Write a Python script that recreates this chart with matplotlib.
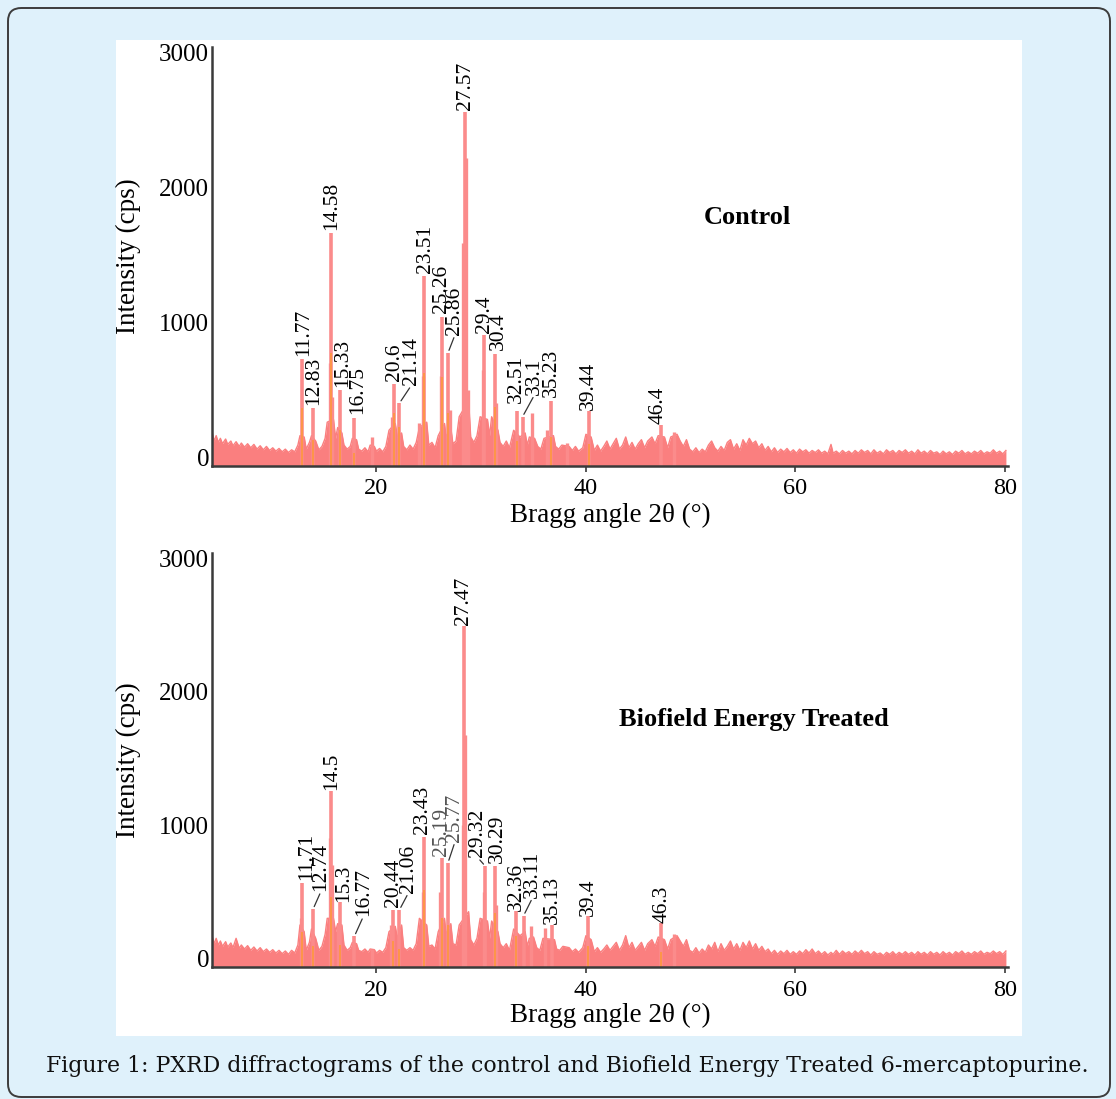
import numpy as np
import matplotlib.pyplot as plt
from matplotlib.patches import FancyBboxPatch, Rectangle

plt.rcParams['font.family'] = ['Liberation Serif', 'DejaVu Serif']

# ---- data (visual 2theta position, intensity cps) ----
# labelled peaks, control
ctrl_peak_x = [12.9, 13.95, 15.67, 16.5, 17.9, 21.64, 22.2, 24.5, 26.3, 26.83,
               28.42, 30.3, 31.28, 33.4, 33.95, 36.7, 40.25, 47.2]
ctrl_peak_h = [728, 364, 1658, 498, 290, 543, 401, 1346, 1041, 773,
               2557, 907, 766, 342, 300, 419, 344, 236]
ctrl_lbl = ["11.77", "12.83", "14.58", "15.33", "16.75", "20.6", "21.14", "23.51", "25.26", "25.86",
            "27.57", "29.4", "30.4", "32.51", "33.1", "35.23", "39.44", "46.4"]
ctrl_orange_h = [364, 126, 773, 200, 30, 327, 223, 624, 595, 327,
                 0, 0, 374, 120, 0, 150, 100, 0]
# shoulders / unlabelled spikes, control
ctrl_minor_x = [15.55, 15.8, 19.6, 21.45, 24.1, 24.4, 26.15, 27.0, 28.3, 28.52, 28.7,
                30.15, 31.4, 34.9, 36.3, 38.2, 48.4]
ctrl_minor_h = [700, 450, 149, 300, 250, 600, 600, 350, 1590, 2220, 500,
                650, 400, 330, 200, 104, 188]

# labelled peaks, treated
treat_peak_x = [12.9, 13.95, 15.67, 16.5, 17.9, 21.55, 22.2, 24.5, 26.26, 26.83,
                28.36, 30.4, 31.35, 33.35, 34.05, 36.76, 40.2, 47.2]
treat_peak_h = [567, 369, 1256, 419, 166, 359, 364, 909, 756, 716,
                2496, 691, 691, 352, 320, 253, 315, 265]
treat_lbl = ["11.71", "12.74", "14.5", "15.3", "16.77", "20.44", "21.06", "23.43", "25.19", "25.77",
             "27.47", "29.32", "30.29", "32.36", "33.11", "35.13", "39.4", "46.3"]
treat_orange_h = [200, 90, 463, 100, 0, 128, 67, 513, 300, 250,
                  0, 0, 342, 166, 0, 0, 91, 44]
treat_minor_x = [12.8, 15.55, 15.78, 16.35, 19.6, 21.4, 24.4, 26.1, 28.25, 28.47,
                 30.25, 31.45, 34.78, 36.1, 48.4]
treat_minor_h = [300, 900, 700, 250, 70, 250, 500, 500, 1000, 1678,
                 500, 400, 240, 228, 186]

# noisy baseline, upper edge (2theta, cps)
ctrl_bg = [(4.3,190),(4.5,120),(4.7,160),(4.9,110),(5.1,140),(5.3,100),(5.6,135),(5.8,95),(6.1,120),(6.3,85),
    (6.6,115),(6.9,80),(7.1,105),(7.4,75),(7.7,100),(8.0,70),(8.3,95),(8.6,60),(8.9,85),(9.2,55),(9.5,80),
    (9.8,50),(10.1,70),(10.4,45),(10.7,65),(11.0,40),(11.3,60),(11.6,35),(11.9,55),(12.2,40),(12.5,90),
    (12.7,160),(13.1,150),(13.3,60),(13.6,110),(13.8,160),(14.2,120),(14.5,55),(14.8,80),(15.1,140),
    (15.3,260),(15.9,280),(16.1,140),(16.3,220),(16.7,180),(16.9,90),(17.2,60),(17.5,80),(17.7,140),
    (18.1,130),(18.3,60),(18.6,45),(18.9,70),(19.2,40),(19.4,90),(19.8,80),(20.0,45),(20.3,65),(20.6,40),
    (20.9,80),(21.2,200),(21.8,250),(22.0,150),(22.4,180),(22.6,80),(22.9,55),(23.2,90),(23.5,60),
    (23.8,110),(24.1,220),(24.8,260),(25.0,90),(25.3,110),(25.6,70),(25.9,160),(26.5,250),(26.65,150),
    (27.1,220),(27.3,100),(27.6,120),(27.9,300),(28.8,420),(29.0,150),(29.3,110),(29.6,160),(29.9,300),
    (30.6,280),(30.8,160),(31.0,300),(31.6,200),(31.8,110),(32.1,80),(32.4,120),(32.7,70),(33.1,200),
    (33.7,150),(34.2,180),(34.4,90),(34.6,150),(35.1,140),(35.4,80),(35.7,60),(36.0,140),(36.9,160),
    (37.1,80),(37.4,60),(37.7,90),(38.4,80),(38.7,50),(39.0,80),(39.3,45),(39.7,70),(40.0,170),(40.5,150),
    (40.8,50),(41.1,90),(41.4,45),(41.7,80),(42.0,120),(42.3,60),(42.6,100),(42.9,140),(43.2,60),(43.5,90),
    (43.8,150),(44.1,70),(44.4,110),(44.7,60),(45.0,100),(45.3,130),(45.6,70),(45.9,120),(46.3,150),
    (46.6,100),(46.9,160),(47.5,150),(47.8,70),(48.1,150),(48.7,170),(49.0,120),(49.3,80),(49.6,130),
    (49.9,60),(50.2,40),(50.5,70),(50.8,35),(51.1,60),(51.4,40),(51.7,90),(52.0,120),(52.3,70),(52.6,45),
    (52.9,80),(53.2,50),(53.5,110),(53.8,130),(54.1,60),(54.4,100),(54.7,50),(55.0,130),(55.3,90),
    (55.6,140),(55.9,100),(56.2,120),(56.5,70),(56.8,100),(57.1,50),(57.4,80),(57.7,40),(58.0,70),
    (58.3,35),(58.6,60),(58.9,40),(59.2,65),(59.5,35),(59.8,55),(60.1,30),(60.4,60),(60.7,40),(61.0,55),
    (61.3,30),(61.6,50),(61.9,35),(62.2,55),(62.5,30),(62.8,45),(63.1,25),(63.4,95),(63.6,30),(63.9,45),
    (64.2,25),(64.5,50),(64.8,30),(65.1,45),(65.4,25),(65.7,50),(66.0,30),(66.3,55),(66.6,35),(66.9,50),
    (67.2,25),(67.5,55),(67.8,30),(68.1,45),(68.4,25),(68.7,55),(69.0,35),(69.3,50),(69.6,25),(69.9,50),
    (70.2,35),(70.5,55),(70.8,30),(71.1,45),(71.4,25),(71.7,55),(72.0,30),(72.3,45),(72.6,25),(72.9,50),
    (73.2,30),(73.5,40),(73.8,20),(74.1,45),(74.4,25),(74.7,40),(75.0,20),(75.3,45),(75.6,30),(75.9,50),
    (76.2,25),(76.5,40),(76.8,25),(77.1,45),(77.4,30),(77.7,50),(78.0,25),(78.3,40),(78.6,30),(78.9,55),
    (79.2,30),(79.5,45),(79.8,25),(80.1,50)]

treat_bg = [(4.3,170),(4.5,110),(4.7,150),(4.9,100),(5.1,130),(5.3,90),(5.6,125),(5.8,85),(6.1,115),(6.3,80),
    (6.6,150),(6.9,75),(7.1,100),(7.4,70),(7.7,95),(8.0,60),(8.3,85),(8.6,55),(8.9,80),(9.2,50),(9.5,70),
    (9.8,45),(10.1,65),(10.4,40),(10.7,60),(11.0,35),(11.3,55),(11.6,30),(11.9,60),(12.2,40),(12.5,100),
    (12.7,250),(13.1,200),(13.3,60),(13.6,120),(13.8,220),(14.2,150),(14.5,60),(14.8,90),(15.1,180),
    (15.3,300),(15.9,300),(16.1,200),(16.3,260),(16.7,250),(16.9,100),(17.2,60),(17.5,80),(17.7,120),
    (18.1,110),(18.3,60),(18.6,50),(18.9,70),(19.2,45),(19.4,70),(19.8,65),(20.0,40),(20.3,60),(20.6,45),
    (20.9,80),(21.2,200),(21.8,240),(22.0,150),(22.4,250),(22.6,80),(22.9,60),(23.2,80),(23.5,60),
    (23.8,110),(24.1,300),(24.8,250),(25.0,90),(25.3,100),(25.6,70),(25.9,200),(26.5,300),(26.65,180),
    (27.1,260),(27.3,110),(27.6,100),(27.9,250),(28.8,350),(29.0,140),(29.3,100),(29.6,150),(29.9,300),
    (30.6,280),(30.8,150),(31.0,280),(31.6,200),(31.8,110),(32.1,80),(32.4,110),(32.7,60),(33.1,220),
    (33.7,170),(34.2,200),(34.4,90),(34.6,150),(35.0,160),(35.3,80),(35.6,60),(35.9,150),(37.0,140),
    (37.2,70),(37.5,60),(37.8,90),(38.4,80),(38.7,50),(39.0,70),(39.3,45),(39.7,80),(40.0,170),(40.5,140),
    (40.8,50),(41.1,80),(41.4,45),(41.7,70),(42.0,100),(42.3,60),(42.6,90),(42.9,120),(43.2,60),(43.5,100),
    (43.8,170),(44.1,80),(44.4,120),(44.7,60),(45.0,90),(45.3,120),(45.6,60),(45.9,110),(46.3,140),
    (46.6,90),(46.9,160),(47.5,140),(47.8,70),(48.1,140),(48.7,170),(49.0,130),(49.3,90),(49.6,140),
    (49.9,60),(50.2,45),(50.5,80),(50.8,40),(51.1,70),(51.4,45),(51.7,100),(52.0,70),(52.3,120),(52.6,50),
    (52.9,110),(53.2,60),(53.5,90),(53.8,130),(54.1,70),(54.4,110),(54.7,60),(55.0,120),(55.3,80),
    (55.6,130),(55.9,70),(56.2,110),(56.5,60),(56.8,90),(57.1,50),(57.4,70),(57.7,35),(58.0,60),(58.3,30),
    (58.6,55),(58.9,35),(59.2,60),(59.5,30),(59.8,50),(60.1,30),(60.4,55),(60.7,35),(61.0,65),(61.3,40),
    (61.6,70),(61.9,35),(62.2,55),(62.5,30),(62.8,50),(63.1,25),(63.4,45),(63.6,30),(63.9,60),(64.2,30),
    (64.5,55),(64.8,35),(65.1,50),(65.4,30),(65.7,55),(66.0,35),(66.3,60),(66.6,35),(66.9,50),(67.2,25),
    (67.5,50),(67.8,30),(68.1,40),(68.4,20),(68.7,45),(69.0,30),(69.3,50),(69.6,25),(69.9,45),(70.2,30),
    (70.5,50),(70.8,30),(71.1,45),(71.4,25),(71.7,50),(72.0,30),(72.3,45),(72.6,25),(72.9,50),(73.2,30),
    (73.5,45),(73.8,25),(74.1,50),(74.4,30),(74.7,45),(75.0,25),(75.3,50),(75.6,35),(75.9,55),(76.2,30),
    (76.5,45),(76.8,30),(77.1,50),(77.4,35),(77.7,55),(78.0,30),(78.3,45),(78.6,35),(78.9,55),(79.2,35),
    (79.5,50),(79.8,30),(80.1,55)]

# label placement (pixel offsets from the peak top; leader line where 1)
ctrl_off = [(2, 3, 0), (1, 3, 0), (1, 3, 0), (3, 3, 0), (3, 4, 0), (1, 3, 0), (12, 18, 1), (2, 3, 0),
            (-1, 4, 0), (7, 18, 1), (1, 2, 0), (0, 2, 0), (4, 4, 0), (0, 8, 0), (12, 22, 1), (0, 4, 0),
            (0, 1, 0), (-3, 1, 0)]
treat_off = [(5, 3, 0), (8, 18, 1), (1, 1, 0), (4, 0, 0), (9, 20, 1), (1, 3, 0), (9, 17, 1), (-1, 3, 0),
             (-1, 2, 0), (7, 21, 1), (0, 1, 0), (-8, 9, 1), (2, 3, 0), (0, 0, 0), (9, 18, 1), (0, 1, 0),
             (0, 0, 0), (1, 0, 0)]

PINK = '#fa7f7f'
STICK = '#fb8b8b'
ORANGE = '#ff9a2e'
BLUE_BG = '#dff1fb'

fig = plt.figure(figsize=(11.16, 10.99), dpi=100)
fig.patch.set_facecolor(BLUE_BG)
W, H = 1116, 1099
fig.patches.append(FancyBboxPatch((8 / W, 2 / H), 1102 / W, 1089 / H,
                                  boxstyle='round,pad=0,rounding_size=0.012',
                                  transform=fig.transFigure, facecolor=BLUE_BG,
                                  edgecolor='#3c3c3c', linewidth=1.4, zorder=-3))
fig.patches.append(Rectangle((116 / W, 1 - 1036 / H), 906 / W, 996 / H,
                             transform=fig.transFigure, facecolor='white',
                             edgecolor='none', zorder=-2))


def panel(rect, bg, px, ph, lbl, oh, mx, mh, offs, title, title_xy):
    ax = fig.add_axes(rect)
    ax.set_facecolor('none')
    bx = [p[0] for p in bg]
    by = [p[1] for p in bg]
    ax.fill_between(bx, by, -200, color=PINK, lw=0)
    ax.plot(bx, by, color=PINK, lw=1.0)
    ax.vlines(mx, -200, mh, color=STICK, lw=2.4)
    ax.vlines(px, -200, ph, color=STICK, lw=2.6)
    ox = [x for x, h in zip(px, oh) if h > 0]
    oy = [h for h in oh if h > 0]
    ax.vlines(ox, -200, oy, color=ORANGE, lw=1.2, alpha=0.85)

    for x, h, t, (dx, dy, lead) in zip(px, ph, lbl, offs):
        col = '#555555' if t in ('25.19', '25.77') else 'black'
        kw = {}
        if lead:
            kw['arrowprops'] = dict(arrowstyle='-', color='#333333', lw=0.9,
                                    shrinkA=0, shrinkB=2, relpos=(0.5, 0.0))
        ax.annotate(t, xy=(x, h), xytext=(dx, dy), textcoords='offset pixels',
                    rotation=90, ha='center', va='bottom', fontsize=15.5,
                    color=col, **kw)

    ax.set_xlim(4.3, 80.3)
    ax.set_ylim(-65, 3040)
    ax.set_xticks([20, 40, 60, 80])
    ax.set_yticks([0, 1000, 2000, 3000])
    for s in ('top', 'right'):
        ax.spines[s].set_visible(False)
    for s in ('left', 'bottom'):
        ax.spines[s].set_color('#3a3a3a')
        ax.spines[s].set_linewidth(1.8)
    ax.tick_params(axis='x', direction='out', length=4, width=1.2, color='#3a3a3a',
                   labelsize=17.5, pad=5)
    ax.tick_params(axis='y', length=0, labelsize=18, pad=2)
    ax.text(-0.105, 0.5, 'Intensity (cps)', transform=ax.transAxes, rotation=90,
            ha='center', va='center', fontsize=19.5)
    ax.text(0.5, -0.118, 'Bragg angle 2θ (°)', transform=ax.transAxes,
            ha='center', va='center', fontsize=19.5)
    ax.text(title_xy[0], title_xy[1], title, transform=ax.transAxes,
            ha='center', va='center', fontsize=19, fontweight='bold')
    return ax


panel([212 / W, 1 - 466 / H, 796 / W, 419 / H], ctrl_bg, ctrl_peak_x, ctrl_peak_h, ctrl_lbl,
      ctrl_orange_h, ctrl_minor_x, ctrl_minor_h, ctrl_off, 'Control', (0.672, 0.592))
panel([212 / W, 1 - 967 / H, 796 / W, 414 / H], treat_bg, treat_peak_x, treat_peak_h, treat_lbl,
      treat_orange_h, treat_minor_x, treat_minor_h, treat_off, 'Biofield Energy Treated',
      (0.681, 0.599))

fig.text(567 / W, 1 - 1066 / H,
         'Figure 1: PXRD diffractograms of the control and Biofield Energy Treated 6-mercaptopurine.',
         ha='center', va='center', fontsize=15.85, family=['DejaVu Serif'], color='#111111')

fig.savefig('out.png', dpi=100, facecolor=fig.get_facecolor())
